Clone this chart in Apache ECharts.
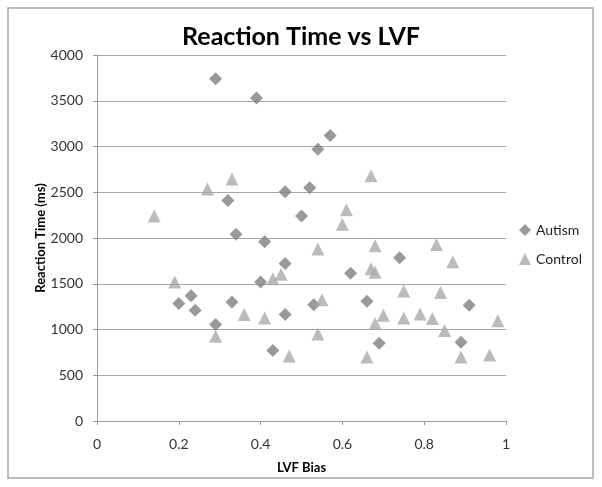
<!DOCTYPE html>
<html><head><meta charset="utf-8">
<script src="https://cdn.jsdelivr.net/npm/echarts@6/dist/echarts.min.js"></script>
<style>html,body{margin:0;padding:0;background:#fff}#c{width:602px;height:487px}</style>
</head><body><div id="c"></div>
<script>
const autismX = [0.29,0.39,0.57,0.54,0.46,0.52,0.32,0.50,0.34,0.41,0.46,0.40,0.20,0.23,0.24,0.33,0.29,0.43,0.46,0.53,0.62,0.74,0.66,0.91,0.69,0.89];
const autismY = [3740,3530,3120,2970,2505,2550,2410,2240,2040,1960,1720,1520,1285,1370,1210,1300,1055,770,1165,1270,1615,1785,1310,1265,850,860];
const controlX = [0.14,0.27,0.33,0.67,0.61,0.60,0.19,0.36,0.41,0.29,0.43,0.45,0.47,0.54,0.68,0.83,0.87,0.67,0.68,0.75,0.84,0.55,0.70,0.68,0.75,0.79,0.82,0.85,0.98,0.54,0.66,0.89,0.96];
const controlY = [2240,2535,2645,2680,2310,2150,1520,1165,1125,925,1555,1605,710,1880,1915,1930,1740,1665,1625,1420,1405,1325,1155,1065,1125,1170,1120,990,1095,950,700,700,720];
const xTicks = [0,0.2,0.4,0.6,0.8,1];
const yTicks = [0,500,1000,1500,2000,2500,3000,3500,4000];
const FONT = 'Lato';
const chart = echarts.init(document.getElementById('c'), null, {renderer:'canvas'});
const zip = (a,b) => a.map((v,i)=>[v,b[i]]);
chart.setOption({
  animation:false,
  textStyle:{fontFamily:FONT},
  graphic:[{type:'rect',shape:{x:8,y:8,width:585,height:470},style:{fill:'none',stroke:'#a8a8a8',lineWidth:1.5},silent:true}],
  title:{text:'Reaction Time vs LVF',left:'center',top:19,textStyle:{fontFamily:FONT,fontSize:25,fontWeight:'bold',color:'#000'}},
  grid:{left:97,right:96,top:55,bottom:66,containLabel:false},
  legend:{orient:'vertical',left:514,top:218,itemGap:15,itemWidth:12,itemHeight:12,
    textStyle:{fontFamily:FONT,fontSize:14,color:'#222'},
    data:[{name:'Autism',icon:'diamond'},{name:'Control',icon:'triangle'}]},
  xAxis:{type:'value',min:0,max:1,interval:0.2,
    name:'LVF Bias',nameLocation:'middle',nameGap:40,nameMoveOverlap:false,
    nameTextStyle:{fontFamily:FONT,fontSize:13,fontWeight:'bold',color:'#000'},
    axisLine:{show:true,lineStyle:{color:'#999'}},
    axisTick:{show:true,length:4,lineStyle:{color:'#999'}},
    splitLine:{show:false},
    axisLabel:{fontFamily:FONT,fontSize:14,color:'#333',margin:16,formatter:v=>xTicks.includes(+v.toFixed(1))?String(+v.toFixed(1)):''}},
  yAxis:{type:'value',min:0,max:4000,interval:500,
    name:'Reaction Time (ms)',nameLocation:'middle',nameGap:50,nameRotate:90,nameMoveOverlap:false,
    nameTextStyle:{fontFamily:FONT,fontSize:13,fontWeight:'bold',color:'#000'},
    axisLine:{show:true,lineStyle:{color:'#999'}},
    axisTick:{show:true,length:4,lineStyle:{color:'#999'}},
    splitLine:{show:true,lineStyle:{color:'#a6a6a6',width:1}},
    axisLabel:{fontFamily:FONT,fontSize:14,color:'#333',margin:14,formatter:v=>yTicks.includes(v)?String(v):''}},
  series:[
    {name:'Autism',type:'scatter',symbol:'diamond',symbolSize:13,itemStyle:{color:'#808080'},data:zip(autismX,autismY)},
    {name:'Control',type:'scatter',symbol:'triangle',symbolSize:13,itemStyle:{color:'#aaaaaa'},data:zip(controlX,controlY)}
  ]
});
</script></body></html>
